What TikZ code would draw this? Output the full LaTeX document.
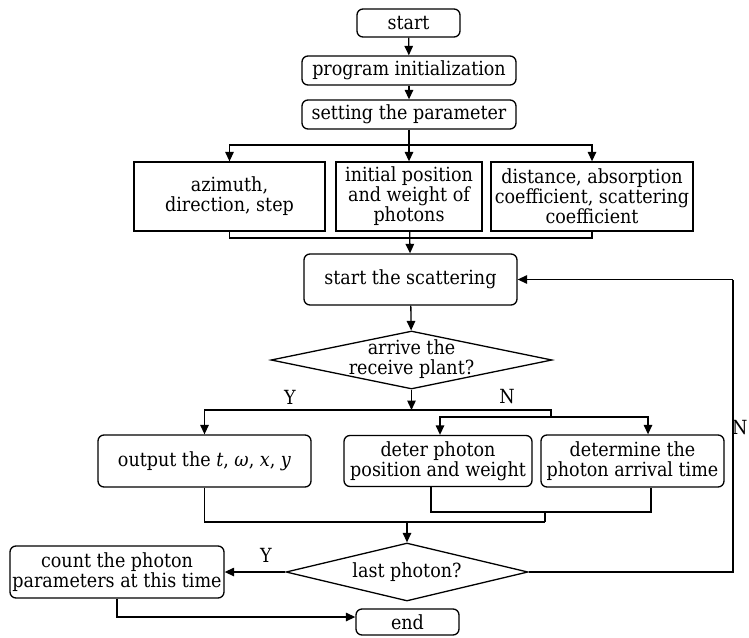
\documentclass[tikz,border=0pt]{standalone}
\usepackage{fontspec}
\setmainfont{DejaVu Serif Condensed}
\usetikzlibrary{shapes.geometric,arrows.meta}
\begin{document}
\begin{tikzpicture}[x=1pt,y=-1pt,
  line width=1.3pt,
  font=\fontsize{19.5}{20}\selectfont,
  arr/.style={-{Triangle[length=9.5pt,width=8.5pt]}},
  rbox/.style={draw,rounded corners=6pt,inner sep=0pt,align=center},
  sbox/.style={draw,inner sep=0pt,align=center},
  decision/.style={draw,diamond,inner sep=0pt}]
\useasboundingbox (0,0) rectangle (749,637);

% process boxes
\node[rbox,minimum width=103pt,minimum height=28pt] (start) at (408.5,23) {start};
\node[rbox,minimum width=214pt,minimum height=29pt] (prog) at (409,70.5) {program initialization};
\node[rbox,minimum width=214pt,minimum height=29pt] (setp) at (409,114.5) {setting the parameter};
\node[sbox,minimum width=191pt,minimum height=69pt] (az) at (229.5,196.5) {azimuth,\\direction, step};
\node[sbox,minimum width=146pt,minimum height=69pt] (init) at (409,196.5) {initial position\\and weight of\\photons};
\node[sbox,minimum width=202pt,minimum height=69pt] (dist) at (592,196.5) {distance, absorption\\coefficient, scattering\\coefficient};
\node[rbox,minimum width=213pt,minimum height=51pt] (scat) at (410.5,279.5) {start the scattering};
\node[decision,minimum width=281pt,minimum height=58pt] (dec1) at (411.5,360) {};
\node[align=center,inner sep=0pt] (dec1t) at (411.5,359) {arrive the\\receive plant?};
\node[rbox,minimum width=213pt,minimum height=52pt] (out) at (204.5,461) {output the \textit{t}, \textit{ω}, \textit{x}, \textit{y}};
\node[rbox,minimum width=188pt,minimum height=51pt] (deter) at (438,461) {deter photon\\position and weight};
\node[rbox,minimum width=183pt,minimum height=52pt] (arriv) at (632.5,461) {determine the\\photon arrival time};
\node[decision,minimum width=242pt,minimum height=58pt] (dec2) at (407,572) {};
\node[inner sep=0pt] (dec2t) at (407,572) {last photon?};
\node[rbox,minimum width=214pt,minimum height=52pt] (count) at (117,572) {count the photon\\parameters at this time};
\node[rbox,minimum width=103pt,minimum height=26pt] (end) at (407.5,622) {end};

% branch labels
\node (y1) at (290,397) {Y};
\node (n1) at (507,397) {N};
\node (y2) at (266,555) {Y};
\node[anchor=east,inner sep=0pt] (n2) at (748,428) {N};

% junction points
\coordinate (b1) at (409,145);
\coordinate (m1) at (409,238);
\coordinate (j1) at (411.5,410);
\coordinate (j2) at (551,410);
\coordinate (j3) at (551,417);
\coordinate (m2) at (545,512);
\coordinate (m3) at (545,522);
\coordinate (m4) at (407,522);
\coordinate (fb) at (733,279.5);

% top part
\draw[arr] (start) -- (prog);
\draw[arr] (prog) -- (setp);
\draw[arr] (setp) -- (init);
\draw[arr] (b1) -| (az.north);
\draw[arr] (b1) -| (dist.north);
\draw (az.south) |- (m1) -| (dist.south);
\draw[arr] (init) -- (scat);
\draw[arr] (scat) -- (dec1);

% first decision
\draw[arr] (dec1.south) -- (j1);
\draw[arr] (j1) -| (out.north);
\draw (j1) -- (j2) -- (j3);
\draw[arr] (j3) -| ([xshift=2pt]deter.north);
\draw[arr] (j3) -| ([xshift=15.5pt]arriv.north);

% merging into the second decision
\draw ([xshift=-7pt]deter.south) |- (m2) -| ([xshift=18.5pt]arriv.south);
\draw (m2) -- (m3);
\draw (out.south) |- (m3);
\draw[arr] (m4) -- (dec2.north);

% second decision
\draw[arr] (dec2.west) -- (count.east);
\draw (dec2.east) -| (fb);
\draw[arr] (fb) -- (scat.east);
\draw[arr] (count.south) |- ([yshift=5pt]end.west);
\end{tikzpicture}
\end{document}
